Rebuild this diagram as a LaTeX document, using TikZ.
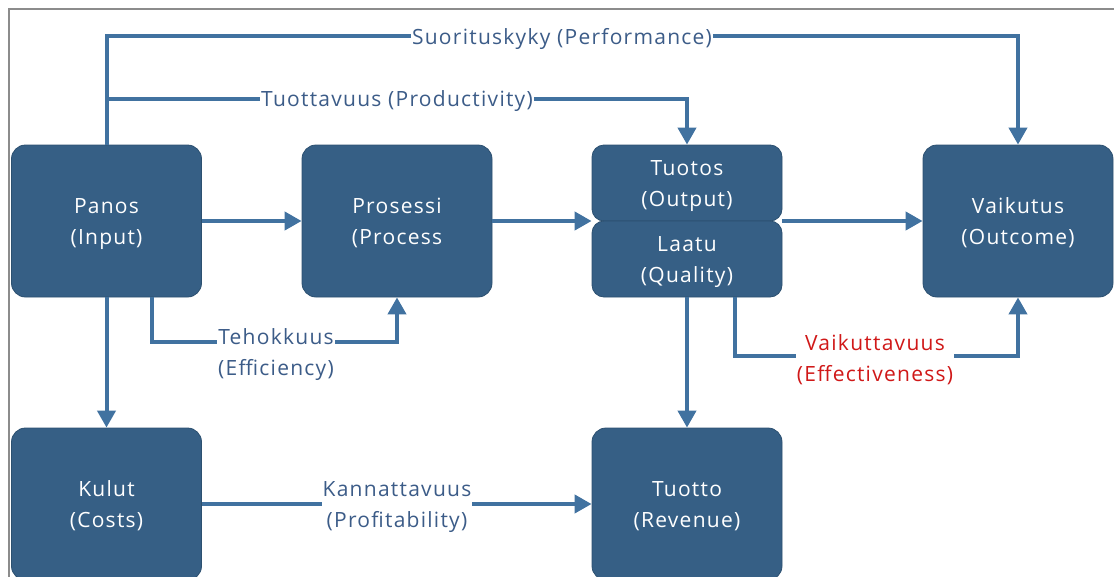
\documentclass[tikz,border=0pt]{standalone}
\usepackage{fontspec}
\setmainfont{Open Sans}[LetterSpace=6]
\usetikzlibrary{arrows.meta,calc}
\definecolor{boxfill}{HTML}{365F85}
\definecolor{boxedge}{HTML}{2C5070}
\definecolor{connblue}{HTML}{4172A0}
\definecolor{labelblue}{HTML}{3C5C88}
\definecolor{labelred}{HTML}{D01818}
\definecolor{framegray}{HTML}{8C8C8C}
\begin{document}
\begin{tikzpicture}[x=1pt,y=-1pt,
  blockbox/.style={draw=boxedge,line width=0.8pt,fill=boxfill,rounded corners=14pt,
    text=white,align=center,inner sep=0pt,minimum width=190pt,minimum height=152pt,
    text depth=0pt,font=\fontsize{21}{31}\selectfont},
  halfbox/.style={blockbox,minimum height=76pt,rounded corners=12pt},
  conn/.style={draw=connblue,line width=4pt},
  arr/.style={conn,-{Triangle[length=17pt,width=18pt]}},
  connlabel/.style={fill=white,inner sep=1pt,align=center,text=labelblue,
    font=\fontsize{21}{31}\selectfont},
]
\useasboundingbox (0,0) rectangle (1114,576);
\clip (0,0) rectangle (1114,576);
% outer frame
\draw[framegray,line width=1.5pt] (9,9) rectangle (1130,600);

% blocks
\node[blockbox] (panos)    at (106.5,221) {Panos\\(Input)};
\node[blockbox] (prosessi) at (397,221)   {Prosessi\\(Process};
\node[halfbox]  (tuotos)   at (687,183)   {Tuotos\\(Output)};
\node[halfbox]  (laatu)    at (687,259)   {Laatu\\(Quality)};
\node[blockbox] (vaikutus) at (1018,221)  {Vaikutus\\(Outcome)};
\node[blockbox] (kulut)    at (106.5,504) {Kulut\\(Costs)};
\node[blockbox] (tuotto)   at (687,504)   {Tuotto\\(Revenue)};

% label anchor points on the connectors
\coordinate (perf) at (562,36);
\coordinate (prod) at (397,99);
\coordinate (effc) at (276,342);
\coordinate (effv) at (875,356);

% performance and productivity
\draw[arr] (panos.north) |- (perf) -| (vaikutus.north);
\draw[arr] (panos.north |- prod) -| (tuotos.north);
% main flow
\draw[arr] (panos.east) -- (prosessi.west);
\draw[arr] (prosessi.east) -- (prosessi.east -| tuotos.west);
\draw[arr] (prosessi.east -| tuotos.east) -- (vaikutus.west);
% efficiency and effectiveness
\draw[arr] ($(panos.south)+(45.5,0)$) |- (effc) -| (prosessi.south);
\draw[arr] ($(laatu.south)+(48,0)$) |- (effv) -| (vaikutus.south);
% costs and revenue
\draw[arr] (panos.south) -- (kulut.north);
\draw[arr] (laatu.south) -- (tuotto.north);
\draw[arr] (kulut.east) -- (tuotto.west);

% connector labels
\node[connlabel] (lperf) at (562,38.5) {Suorituskyky (Performance)};
\node[connlabel] (lprod) at (397,101.5) {Tuottavuus (Productivity)};
\node[connlabel] (leff)  at (276,355) {Tehokkuus\\(Efficiency)};
\node[connlabel,text=labelred] (leffv) at (875,359.5) {Vaikuttavuus\\(Effectiveness)};
\node[connlabel] (lprof) at (397,507.5) {Kannattavuus\\(Profitability)};
\end{tikzpicture}
\end{document}
